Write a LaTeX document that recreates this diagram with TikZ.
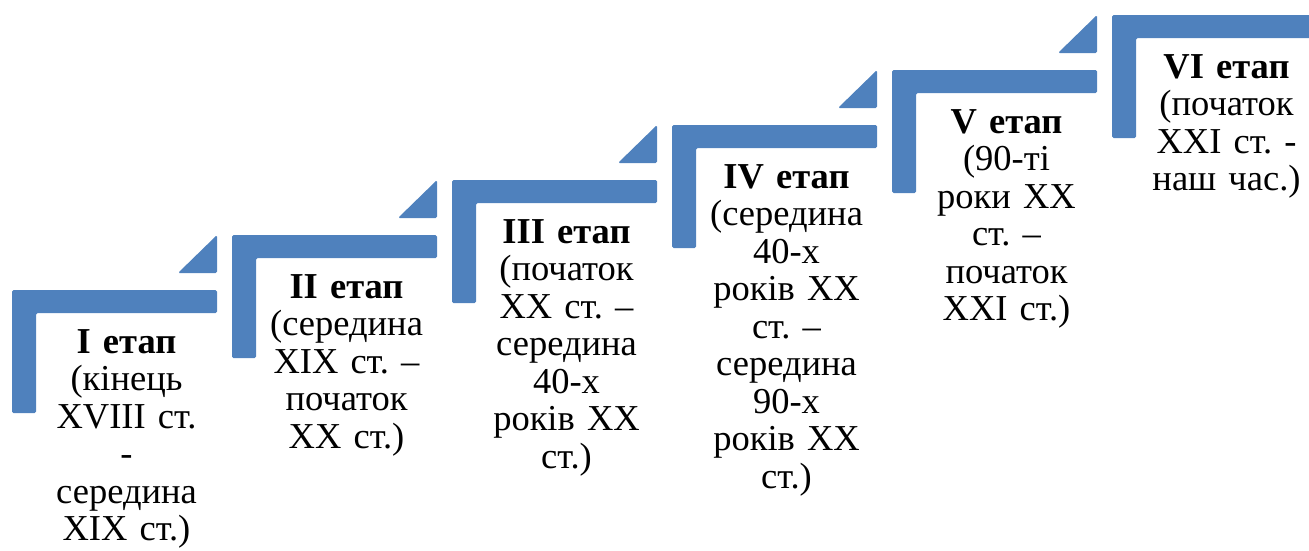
\documentclass[tikz,border=0pt]{standalone}
\usepackage{fontspec}
\setmainfont{Liberation Serif}
\frenchspacing
\definecolor{stepblue}{HTML}{4F81BD}
\tikzset{
  stepshape/.style={fill=stepblue, draw=none, rounded corners=1.5pt},
  steptext/.style={anchor=north, inner sep=0pt, text width=200pt, align=center,
    font=\fontsize{36.5}{37.5}\selectfont},
}
\begin{document}
\begin{tikzpicture}[x=1pt,y=-1pt]
\useasboundingbox (0,0) rectangle (1309,550);
\clip (0,0) rectangle (1309,550);
% six L-shaped steps, each with a small triangle leading up to the next one
\foreach \k in {0,...,5} {
  \pgfmathsetmacro\sx{12+220*\k}
  \pgfmathsetmacro\sy{290-55*\k}
  \fill[stepshape] (\sx,\sy) -- ++(205,0) -- ++(0,23) -- ++(-181,0) -- ++(0,100) -- ++(-24,0) -- cycle;
  \ifnum\k<5
    \fill[stepshape] (\sx+166,\sy-17) -- (\sx+205,\sy-55) -- (\sx+205,\sy-17) -- cycle;
  \fi
}
% stage captions
\node[steptext] (s1) at (126.5,329) {\textbf{I етап}\\(кінець\\XVIII ст.\\-\\середина\\XIX ст.)};
\node[steptext] (s2) at (346.5,274) {\textbf{II етап}\\(середина\\XIX ст. –\\початок\\XX ст.)};
\node[steptext] (s3) at (566.5,219) {\textbf{III етап}\\(початок\\XX ст. –\\середина\\40-х\\років XX\\ст.)};
\node[steptext] (s4) at (786.5,164) {\textbf{IV етап}\\(середина\\40-х\\років XX\\ст. –\\середина\\90-х\\років XX\\ст.)};
\node[steptext] (s5) at (1006.5,109) {\textbf{V етап}\\(90-ті\\роки XX\\ст. –\\початок\\XXI ст.)};
\node[steptext] (s6) at (1226.5,54) {\textbf{VI етап}\\(початок\\XXI ст. -\\наш час.)};
\end{tikzpicture}
\end{document}
